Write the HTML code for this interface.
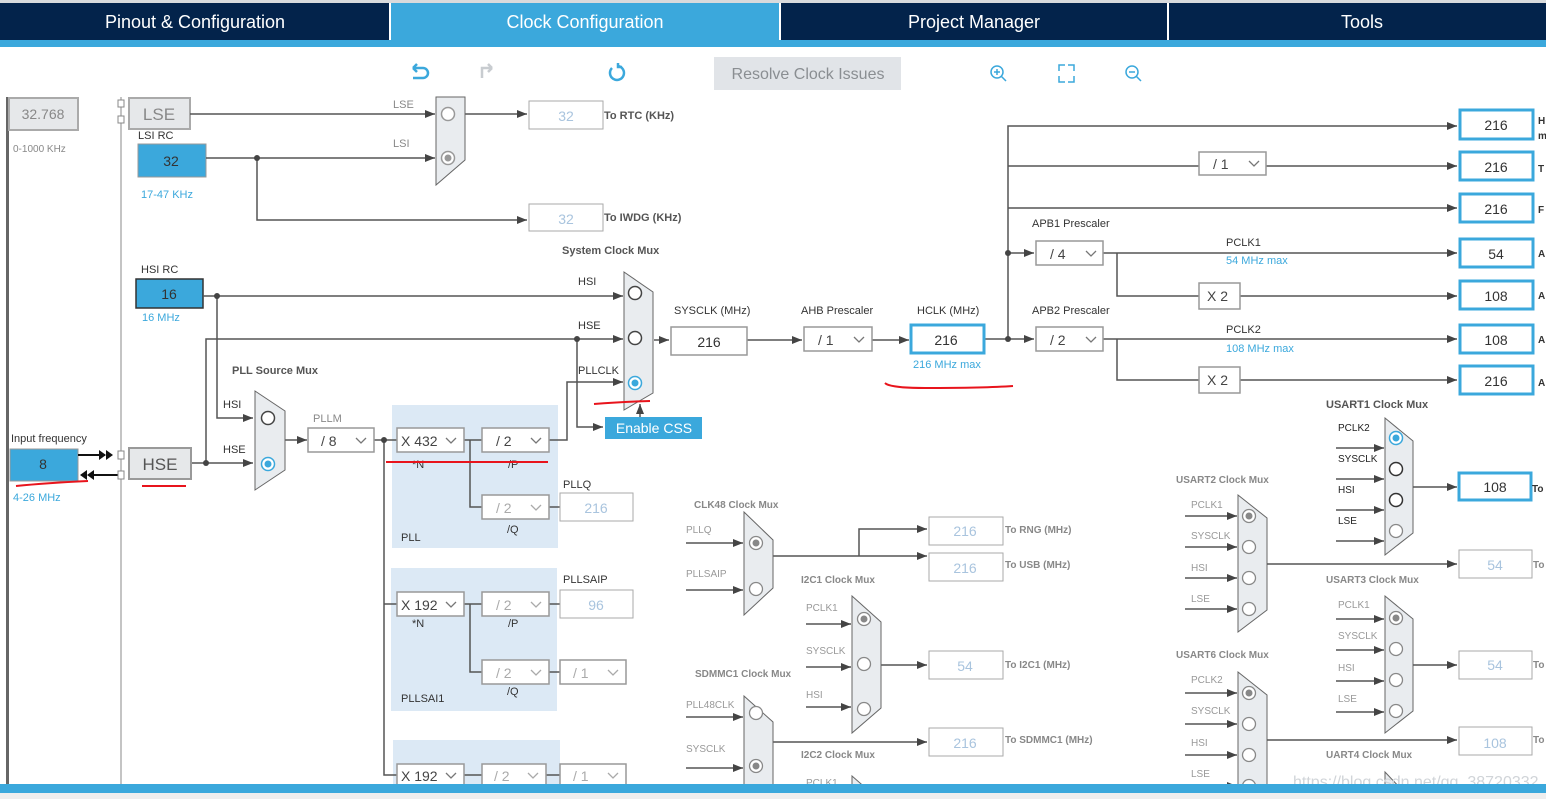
<!DOCTYPE html>
<html><head><meta charset="utf-8"><style>
html,body{margin:0;padding:0;background:#fff;}
svg{display:block;font-family:"Liberation Sans",sans-serif;}
.l{fill:#333;font-size:11px}
.g{fill:#888;font-size:11px}
.b{fill:#555;font-size:11px;font-weight:bold}
.bl{fill:#3ba8dc;font-size:11px}
.v{font-size:14px;text-anchor:middle;fill:#333}
.vg{font-size:14px;text-anchor:middle;fill:#a9c4de}
</style></head><body>
<svg width="1546" height="799" viewBox="0 0 1546 799" xmlns="http://www.w3.org/2000/svg">
<defs>
<marker id="a" markerWidth="10" markerHeight="8" refX="10" refY="4" orient="auto" markerUnits="userSpaceOnUse"><path d="M0,0L10,4L0,8z" fill="#444"/></marker>
</defs>
<!-- header -->
<rect x="0" y="0" width="1546" height="3" fill="#d8dadc"/>
<rect x="0" y="3" width="389" height="37" fill="#03234b"/>
<rect x="391" y="3" width="388" height="37" fill="#3ba8dc"/>
<rect x="781" y="3" width="386" height="37" fill="#03234b"/>
<rect x="1169" y="3" width="377" height="37" fill="#03234b"/>
<rect x="0" y="40" width="1546" height="7" fill="#3ba8dc"/>
<g font-size="18" fill="#fff" text-anchor="middle">
<text x="195" y="28">Pinout &amp; Configuration</text>
<text x="585" y="28">Clock Configuration</text>
<text x="974" y="28">Project Manager</text>
<text x="1362" y="28">Tools</text>
</g>
<!-- toolbar -->
<g fill="none" stroke-width="2.5">
<path d="M413,68h10a5,5 0 0 1 0,10h-10M413,68l4,-4M413,68l4,4" stroke="#3ba8dc"/>
<path d="M492,68h-10v10M492,68l-4,-4M492,68l-4,4" stroke="#c8ccd0"/>
<path d="M612,68a7,7 0 1 0 6,-2M618,63v4h4" stroke="#3ba8dc"/>
<circle cx="997" cy="72" r="6" stroke="#3ba8dc" stroke-width="1.5"/><path d="M1001,76l5,5M994,72h6M997,69v6" stroke="#3ba8dc" stroke-width="1.5"/>
<path d="M1059,71v-6h6M1068,65h6v6M1074,76v6h-6M1065,82h-6v-6" stroke="#3ba8dc" stroke-width="1.5"/>
<circle cx="1132" cy="72" r="6" stroke="#3ba8dc" stroke-width="1.5"/><path d="M1136,76l5,5M1129,72h6" stroke="#3ba8dc" stroke-width="1.5"/>
</g>
<rect x="714" y="57" width="187" height="33" fill="#e1e4e8"/>
<text x="808" y="79" font-size="16" fill="#8a8e92" text-anchor="middle">Resolve Clock Issues</text>
<!-- left rails -->
<rect x="6" y="97" width="3" height="688" fill="#666"/>
<line x1="121" y1="97" x2="121" y2="785" stroke="#888"/>
<!-- PLL areas (background first) -->
<rect x="392" y="405" width="166" height="143" fill="#dce9f5"/>
<rect x="391" y="568" width="166" height="143" fill="#dce9f5"/>
<rect x="393" y="740" width="167" height="50" fill="#dce9f5"/>
<!-- LSE area -->
<rect x="9" y="98" width="69" height="32" fill="#e6e8ea" stroke="#aaa" stroke-width="2"/>
<text x="43" y="119" font-size="14" fill="#888" text-anchor="middle">32.768</text>
<text x="13" y="152" font-size="10" fill="#888">0-1000 KHz</text>
<rect x="118" y="100" width="6" height="7" fill="#fff" stroke="#888"/>
<rect x="118" y="116" width="6" height="7" fill="#fff" stroke="#888"/>
<rect x="129" y="98" width="61" height="31" fill="#e6e8ea" stroke="#aaa" stroke-width="2"/>
<text x="159" y="120" font-size="17" fill="#888" text-anchor="middle">LSE</text>
<text x="138" y="139" class="l" font-size="10">LSI RC</text>
<rect x="138" y="144" width="68" height="33" fill="#3ba8dc" stroke="#999"/>
<text x="171" y="166" class="v">32</text>
<text x="141" y="198" class="bl" font-size="10">17-47 KHz</text>
<g stroke="#555" stroke-width="1.5" fill="none">
<line x1="190" y1="114" x2="435" y2="114" marker-end="url(#a)"/>
<line x1="206" y1="158" x2="435" y2="158" marker-end="url(#a)"/>
<polyline points="257,158 257,220 527,220" marker-end="url(#a)"/>
<line x1="465" y1="114" x2="527" y2="114" marker-end="url(#a)"/>
</g>
<circle cx="257" cy="158" r="3" fill="#444"/>
<text x="393" y="108" class="g" font-size="10">LSE</text>
<text x="393" y="147" class="g" font-size="10">LSI</text>
<path d="M436,97H465V160L436,185Z" fill="#e9ecef" stroke="#666"/>
<circle cx="448" cy="114" r="6.5" fill="#fff" stroke="#999" stroke-width="1.5"/>
<circle cx="448" cy="158" r="6.5" fill="#fff" stroke="#999" stroke-width="1.5"/><circle cx="448" cy="158" r="3.5" fill="#999"/>
<rect x="529" y="101" width="74" height="28" fill="#fff" stroke="#aaa"/><text x="566" y="121" class="vg">32</text>
<text x="604" y="119" class="b" font-size="10" fill="#777">To RTC (KHz)</text>
<rect x="529" y="204" width="74" height="27" fill="#fff" stroke="#aaa"/><text x="566" y="224" class="vg">32</text>
<text x="604" y="221" class="b" font-size="10" fill="#777">To IWDG (KHz)</text>
<!-- HSI / system mux -->
<text x="562" y="254" class="b">System Clock Mux</text>
<text x="141" y="273" class="l" font-size="10">HSI RC</text>
<rect x="136" y="279" width="67" height="29" fill="#3ba8dc" stroke="#333" stroke-width="1.5"/>
<text x="169" y="299" class="v">16</text>
<text x="142" y="321" class="bl" font-size="10">16 MHz</text>
<g stroke="#555" stroke-width="1.5" fill="none">
<line x1="203" y1="296" x2="623" y2="296" marker-end="url(#a)"/>
<polyline points="206,463 206,339 623,339" marker-end="url(#a)"/>
<polyline points="217,296 217,418 253,418" marker-end="url(#a)"/>
<line x1="191" y1="463" x2="253" y2="463" marker-end="url(#a)"/>
<polyline points="549,440 567,440 567,382 623,382" marker-end="url(#a)"/>
<polyline points="577,339 577,427 603,427" marker-end="url(#a)"/>
<line x1="640" y1="417" x2="640" y2="404" marker-end="url(#a)"/>
<line x1="654" y1="340" x2="669" y2="340" marker-end="url(#a)"/>
<line x1="747" y1="340" x2="802" y2="340" marker-end="url(#a)"/>
<line x1="872" y1="340" x2="909" y2="340" marker-end="url(#a)"/>
<line x1="984" y1="339" x2="1034" y2="339" marker-end="url(#a)"/>
<line x1="1008" y1="253" x2="1034" y2="253" marker-end="url(#a)"/>
<polyline points="1008,339 1008,126 1457,126" marker-end="url(#a)"/>
<line x1="1008" y1="166" x2="1457" y2="166" marker-end="url(#a)"/>
<line x1="1008" y1="208" x2="1457" y2="208" marker-end="url(#a)"/>
<line x1="1103" y1="253" x2="1457" y2="253" marker-end="url(#a)"/>
<polyline points="1117,253 1117,296 1457,296" marker-end="url(#a)"/>
<line x1="1103" y1="339" x2="1457" y2="339" marker-end="url(#a)"/>
<polyline points="1117,339 1117,380 1457,380" marker-end="url(#a)"/>
</g>
<circle cx="217" cy="296" r="3" fill="#444"/><circle cx="577" cy="339" r="3" fill="#444"/>
<circle cx="206" cy="463" r="3" fill="#444"/><circle cx="1008" cy="339" r="3" fill="#444"/><circle cx="1008" cy="253" r="3" fill="#444"/>
<text x="578" y="285" class="l" font-size="10">HSI</text>
<text x="578" y="329" class="l" font-size="10">HSE</text>
<text x="578" y="374" class="l" font-size="10">PLLCLK</text>
<path d="M624,272L653,292V393L624,410Z" fill="#e9ecef" stroke="#666"/>
<circle cx="635" cy="293" r="6.5" fill="#fff" stroke="#444" stroke-width="1.5"/>
<circle cx="635" cy="338" r="6.5" fill="#fff" stroke="#444" stroke-width="1.5"/>
<circle cx="635" cy="383" r="6.5" fill="#fff" stroke="#3ba8dc" stroke-width="1.5"/><circle cx="635" cy="383" r="3.5" fill="#3ba8dc"/>
<rect x="605" y="417" width="97" height="22" fill="#3ba8dc"/>
<text x="654" y="433" font-size="14" fill="#fff" text-anchor="middle">Enable CSS</text>
<text x="674" y="314" class="l" fill="#555">SYSCLK (MHz)</text>
<rect x="671" y="327" width="76" height="28" fill="#fff" stroke="#999" stroke-width="1.5"/><text x="709" y="347" class="v">216</text>
<text x="801" y="314" class="l" fill="#555">AHB Prescaler</text>
<text x="917" y="314" class="l" fill="#555">HCLK (MHz)</text>
<rect x="911" y="325" width="73" height="28" fill="#fff" stroke="#3ba8dc" stroke-width="3"/><text x="946" y="345" class="v">216</text>
<text x="913" y="368" class="bl" font-size="10">216 MHz max</text>
<text x="1032" y="227" class="l" fill="#555">APB1 Prescaler</text>
<text x="1032" y="314" class="l" fill="#555">APB2 Prescaler</text>
<text x="1226" y="246" class="l" font-size="10" fill="#222">PCLK1</text>
<text x="1226" y="264" class="bl" font-size="10">54 MHz max</text>
<text x="1226" y="333" class="l" font-size="10" fill="#222">PCLK2</text>
<text x="1226" y="352" class="bl" font-size="10">108 MHz max</text>
<!-- PLL connectors -->
<g stroke="#555" stroke-width="1.5" fill="none">
<line x1="285" y1="440" x2="307" y2="440" marker-end="url(#a)"/>
<line x1="374" y1="440" x2="397" y2="440"/>
<line x1="464" y1="440" x2="482" y2="440"/>
<polyline points="384,440 384,775 397,775"/>
<line x1="384" y1="604" x2="397" y2="604"/>
<polyline points="470,440 470,507 482,507"/>
<line x1="549" y1="507" x2="560" y2="507"/>
<line x1="464" y1="604" x2="482" y2="604"/>
<polyline points="470,604 470,672 482,672"/>
<line x1="549" y1="604" x2="560" y2="604"/><line x1="549" y1="672" x2="560" y2="672"/>
<line x1="464" y1="775" x2="482" y2="775"/><line x1="546" y1="775" x2="560" y2="775"/>
</g>
<circle cx="384" cy="440" r="3" fill="#444"/>
<!-- dropdowns -->
<g fill="#fff" stroke="#999" stroke-width="1.5">
<rect x="804" y="327" width="68" height="24"/>
<rect x="1199" y="152" width="67" height="23"/>
<rect x="1036" y="241" width="67" height="24"/>
<rect x="1036" y="327" width="67" height="24"/>
<rect x="1199" y="283" width="41" height="26"/>
<rect x="1199" y="367" width="41" height="26"/>
<rect x="308" y="428" width="66" height="24"/>
<rect x="397" y="428" width="67" height="24"/>
<rect x="482" y="428" width="67" height="24"/>
</g>
<g font-size="14" fill="#444">
<text x="818" y="345">/ 1</text><text x="1213" y="169">/ 1</text>
<text x="1050" y="259">/ 4</text><text x="1050" y="345">/ 2</text>
<text x="1207" y="301">X 2</text><text x="1207" y="385">X 2</text>
<text x="321" y="446">/ 8</text><text x="401" y="446">X 432</text><text x="496" y="446">/ 2</text>
</g>
<g fill="none" stroke="#777" stroke-width="1.3">
<path d="M854,337l5,5l5,-5M1249,161l5,5l5,-5M1086,251l5,5l5,-5M1086,337l5,5l5,-5M356,438l5,5l5,-5M446,438l5,5l5,-5M531,438l5,5l5,-5"/>
</g>
<!-- output boxes -->
<g fill="#fff" stroke="#3ba8dc" stroke-width="3">
<rect x="1460" y="110" width="73" height="29"/><rect x="1460" y="152" width="73" height="28"/>
<rect x="1460" y="194" width="73" height="28"/><rect x="1460" y="239" width="73" height="28"/>
<rect x="1460" y="281" width="73" height="28"/><rect x="1460" y="325" width="73" height="28"/>
<rect x="1460" y="366" width="73" height="28"/><rect x="1459" y="473" width="72" height="27"/>
</g>
<g><text x="1496" y="130" class="v">216</text><text x="1496" y="172" class="v">216</text><text x="1496" y="214" class="v">216</text>
<text x="1496" y="259" class="v">54</text><text x="1496" y="301" class="v">108</text><text x="1496" y="345" class="v">108</text>
<text x="1496" y="386" class="v">216</text><text x="1495" y="492" class="v">108</text></g>
<g font-size="10" font-weight="bold" fill="#333">
<text x="1538" y="124">H</text><text x="1538" y="139">m</text><text x="1538" y="172">T</text><text x="1538" y="213">F</text>
<text x="1538" y="257">A</text><text x="1538" y="299">A</text><text x="1538" y="343">A</text><text x="1538" y="386">A</text>
<text x="1532" y="492">To</text><text x="1533" y="568" fill="#888">To</text><text x="1533" y="668" fill="#888">To</text><text x="1533" y="743" fill="#888">To</text>
</g>
<!-- PLL source -->
<text x="232" y="374" class="b">PLL Source Mux</text>
<text x="223" y="408" class="l" font-size="10">HSI</text>
<text x="223" y="453" class="l" font-size="10">HSE</text>
<path d="M255,391L285,411V470L255,490Z" fill="#e9ecef" stroke="#666"/>
<circle cx="268" cy="418" r="6.5" fill="#fff" stroke="#444" stroke-width="1.5"/>
<circle cx="268" cy="464" r="6.5" fill="#fff" stroke="#3ba8dc" stroke-width="1.5"/><circle cx="268" cy="464" r="3.5" fill="#3ba8dc"/>
<text x="11" y="442" class="l" font-size="10">Input frequency</text>
<rect x="10" y="449" width="68" height="32" fill="#3ba8dc" stroke="#999"/>
<text x="43" y="469" class="v" font-size="13">8</text>
<text x="13" y="501" class="bl" font-size="10">4-26 MHz</text>
<g stroke="#111" stroke-width="2"><line x1="78" y1="455" x2="105" y2="455"/><line x1="93" y1="475" x2="118" y2="475"/></g>
<path d="M99,450l7,5l-7,5zM106,450l7,5l-7,5zM94,470l-7,5l7,5zM87,470l-7,5l7,5z" fill="#111"/>
<rect x="118" y="451" width="6" height="8" fill="#fff" stroke="#888"/><rect x="118" y="471" width="6" height="8" fill="#fff" stroke="#888"/>
<rect x="129" y="448" width="62" height="31" fill="#e6e8ea" stroke="#999" stroke-width="2"/>
<text x="160" y="470" font-size="17" fill="#555" text-anchor="middle">HSE</text>
<text x="313" y="422" class="g" font-size="10" fill="#555">PLLM</text>
<g fill="#fff" stroke="#999" stroke-width="1.5">
<rect x="482" y="495" width="67" height="24"/><rect x="397" y="592" width="67" height="24"/>
<rect x="482" y="592" width="67" height="24"/><rect x="482" y="660" width="67" height="24"/>
<rect x="560" y="660" width="66" height="24"/><rect x="397" y="764" width="67" height="24"/>
<rect x="482" y="764" width="64" height="24"/><rect x="560" y="764" width="66" height="24"/>
</g>
<g fill="#fff" stroke="#aaa"><rect x="560" y="493" width="73" height="28"/><rect x="560" y="590" width="73" height="28"/></g>
<text x="596" y="513" class="vg">216</text><text x="596" y="610" class="vg">96</text>
<g font-size="14" fill="#aaa"><text x="496" y="513">/ 2</text><text x="496" y="610">/ 2</text><text x="496" y="678">/ 2</text><text x="573" y="678">/ 1</text><text x="494" y="781">/ 2</text><text x="573" y="781">/ 1</text></g>
<g font-size="14" fill="#444"><text x="401" y="610">X 192</text><text x="401" y="781">X 192</text></g>
<g fill="none" stroke="#aaa" stroke-width="1.3"><path d="M531,505l5,5l5,-5M531,602l5,5l5,-5M531,670l5,5l5,-5M608,670l5,5l5,-5M528,773l5,5l5,-5M608,773l5,5l5,-5"/></g>
<g fill="none" stroke="#777" stroke-width="1.3"><path d="M446,602l5,5l5,-5M446,773l5,5l5,-5"/></g>
<g class="l" font-size="10" fill="#555">
<text x="412" y="468">*N</text><text x="508" y="468">/P</text><text x="507" y="533">/Q</text><text x="401" y="541">PLL</text>
<text x="563" y="488">PLLQ</text><text x="563" y="583">PLLSAIP</text>
<text x="412" y="627">*N</text><text x="508" y="627">/P</text><text x="507" y="695">/Q</text><text x="401" y="702">PLLSAI1</text>
</g>
<!-- red marks -->
<g stroke="#e8141c" stroke-width="2" fill="none">
<path d="M142,486h44"/><path d="M16,486q30,-3 72,-5"/><path d="M386,462h162"/><path d="M594,404q25,-2 56,-3"/><path d="M885,383q5,5 40,5q60,0 88,-2"/>
</g>
<!-- lower middle muxes -->
<g stroke="#555" stroke-width="1.5" fill="none">
<line x1="686" y1="543" x2="743" y2="543" marker-end="url(#a)"/>
<line x1="686" y1="590" x2="743" y2="590" marker-end="url(#a)"/>
<line x1="773" y1="556" x2="927" y2="556" marker-end="url(#a)"/>
<polyline points="859,556 859,529 927,529" marker-end="url(#a)"/>
<line x1="806" y1="624" x2="851" y2="624" marker-end="url(#a)"/>
<line x1="806" y1="667" x2="851" y2="667" marker-end="url(#a)"/>
<line x1="806" y1="707" x2="851" y2="707" marker-end="url(#a)"/>
<line x1="881" y1="665" x2="927" y2="665" marker-end="url(#a)"/>
<line x1="686" y1="717" x2="743" y2="717" marker-end="url(#a)"/>
<line x1="686" y1="768" x2="743" y2="768" marker-end="url(#a)"/>
<line x1="773" y1="742" x2="927" y2="742" marker-end="url(#a)"/>
</g>
<g fill="#e9ecef" stroke="#666">
<path d="M744,512L773,540V588L744,615Z"/><path d="M852,596L881,622V708L852,733Z"/><path d="M744,696L773,722V790H744Z"/>
<path d="M1385,418L1413,441V533L1385,555Z"/><path d="M1238,495L1267,518V610L1238,632Z"/>
<path d="M1385,596L1413,619V711L1385,733Z"/><path d="M1238,672L1267,695V790H1238Z"/>
<path d="M852,776L868,790H852Z"/><path d="M1385,772L1402,790H1385Z"/>
</g>
<g fill="#fff" stroke="#888" stroke-width="1.3">
<circle cx="756" cy="543" r="6.5"/><circle cx="756" cy="589" r="6.5"/>
<circle cx="864" cy="619" r="6.5"/><circle cx="864" cy="664" r="6.5"/><circle cx="864" cy="709" r="6.5"/>
<circle cx="756" cy="713" r="6.5"/><circle cx="756" cy="766" r="6.5"/>
<circle cx="1249" cy="516" r="6.5"/><circle cx="1249" cy="547" r="6.5"/><circle cx="1249" cy="578" r="6.5"/><circle cx="1249" cy="609" r="6.5"/>
<circle cx="1396" cy="618" r="6.5"/><circle cx="1396" cy="649" r="6.5"/><circle cx="1396" cy="680" r="6.5"/><circle cx="1396" cy="711" r="6.5"/>
<circle cx="1249" cy="693" r="6.5"/><circle cx="1249" cy="724" r="6.5"/><circle cx="1249" cy="755" r="6.5"/><circle cx="1249" cy="786" r="6.5"/>
<circle cx="1396" cy="531" r="6.5"/>
</g>
<g fill="#888"><circle cx="756" cy="543" r="3.5"/><circle cx="864" cy="619" r="3.5"/><circle cx="756" cy="766" r="3.5"/><circle cx="1249" cy="516" r="3.5"/><circle cx="1396" cy="618" r="3.5"/><circle cx="1249" cy="693" r="3.5"/></g>
<circle cx="1396" cy="438" r="6.5" fill="#fff" stroke="#3ba8dc" stroke-width="1.5"/><circle cx="1396" cy="438" r="3.5" fill="#3ba8dc"/>
<circle cx="1396" cy="469" r="6.5" fill="#fff" stroke="#333" stroke-width="1.5"/>
<circle cx="1396" cy="500" r="6.5" fill="#fff" stroke="#333" stroke-width="1.5"/>
<g fill="#fff" stroke="#aaa">
<rect x="929" y="517" width="74" height="28"/><rect x="929" y="553" width="74" height="28"/>
<rect x="929" y="651" width="74" height="28"/><rect x="929" y="728" width="74" height="28"/>
<rect x="1459" y="550" width="73" height="28"/><rect x="1459" y="651" width="73" height="28"/><rect x="1459" y="727" width="73" height="28"/>
</g>
<text x="965" y="536" class="vg">216</text><text x="965" y="573" class="vg">216</text><text x="965" y="671" class="vg">54</text><text x="965" y="748" class="vg">216</text>
<text x="1495" y="570" class="vg">54</text><text x="1495" y="670" class="vg">54</text><text x="1495" y="748" class="vg">108</text>
<g font-size="10" font-weight="bold" fill="#888">
<text x="1005" y="533">To RNG (MHz)</text><text x="1005" y="568">To USB (MHz)</text><text x="1005" y="668">To I2C1 (MHz)</text><text x="1005" y="743">To SDMMC1 (MHz)</text>
<text x="694" y="508">CLK48 Clock Mux</text><text x="801" y="583">I2C1 Clock Mux</text><text x="695" y="677">SDMMC1 Clock Mux</text><text x="801" y="758">I2C2 Clock Mux</text>
<text x="1176" y="483">USART2 Clock Mux</text><text x="1326" y="583">USART3 Clock Mux</text><text x="1176" y="658">USART6 Clock Mux</text><text x="1326" y="758">UART4 Clock Mux</text>
</g>
<text x="1326" y="408" class="b" font-size="10">USART1 Clock Mux</text>
<g font-size="10" fill="#999">
<text x="686" y="533">PLLQ</text><text x="686" y="577">PLLSAIP</text><text x="806" y="611">PCLK1</text><text x="806" y="654">SYSCLK</text><text x="806" y="698">HSI</text>
<text x="686" y="708">PLL48CLK</text><text x="686" y="752">SYSCLK</text><text x="806" y="786">PCLK1</text>
<text x="1191" y="508">PCLK1</text><text x="1191" y="539">SYSCLK</text><text x="1191" y="571">HSI</text><text x="1191" y="602">LSE</text>
<text x="1338" y="608">PCLK1</text><text x="1338" y="639">SYSCLK</text><text x="1338" y="671">HSI</text><text x="1338" y="702">LSE</text>
<text x="1191" y="683">PCLK2</text><text x="1191" y="714">SYSCLK</text><text x="1191" y="746">HSI</text><text x="1191" y="777">LSE</text>
</g>
<g font-size="10" fill="#222"><text x="1338" y="431">PCLK2</text><text x="1338" y="462">SYSCLK</text><text x="1338" y="493">HSI</text><text x="1338" y="524">LSE</text></g>
<g stroke="#555" stroke-width="1.5" fill="none">
<line x1="1336" y1="448" x2="1384" y2="448" marker-end="url(#a)"/><line x1="1336" y1="479" x2="1384" y2="479" marker-end="url(#a)"/>
<line x1="1336" y1="510" x2="1384" y2="510" marker-end="url(#a)"/><line x1="1336" y1="541" x2="1384" y2="541" marker-end="url(#a)"/>
<line x1="1413" y1="487" x2="1457" y2="487" marker-end="url(#a)"/>
<line x1="1185" y1="516" x2="1237" y2="516" marker-end="url(#a)"/><line x1="1185" y1="547" x2="1237" y2="547" marker-end="url(#a)"/>
<line x1="1185" y1="578" x2="1237" y2="578" marker-end="url(#a)"/><line x1="1185" y1="609" x2="1237" y2="609" marker-end="url(#a)"/>
<line x1="1267" y1="564" x2="1457" y2="564" marker-end="url(#a)"/>
<line x1="1336" y1="619" x2="1384" y2="619" marker-end="url(#a)"/><line x1="1336" y1="650" x2="1384" y2="650" marker-end="url(#a)"/>
<line x1="1336" y1="681" x2="1384" y2="681" marker-end="url(#a)"/><line x1="1336" y1="712" x2="1384" y2="712" marker-end="url(#a)"/>
<line x1="1413" y1="665" x2="1457" y2="665" marker-end="url(#a)"/>
<line x1="1185" y1="693" x2="1237" y2="693" marker-end="url(#a)"/><line x1="1185" y1="724" x2="1237" y2="724" marker-end="url(#a)"/>
<line x1="1185" y1="755" x2="1237" y2="755" marker-end="url(#a)"/><line x1="1185" y1="786" x2="1237" y2="786" marker-end="url(#a)"/>
<line x1="1267" y1="740" x2="1457" y2="740" marker-end="url(#a)"/>
</g>
<text x="1293" y="787" font-size="16" fill="#d0d4d8">https://blog.csdn.net/qq_38720332</text>
<!-- bottom bar -->
<rect x="0" y="784" width="1546" height="9" fill="#3ba8dc"/>
<rect x="0" y="793" width="1546" height="6" fill="#eeeeee"/>
</svg>
</body></html>
